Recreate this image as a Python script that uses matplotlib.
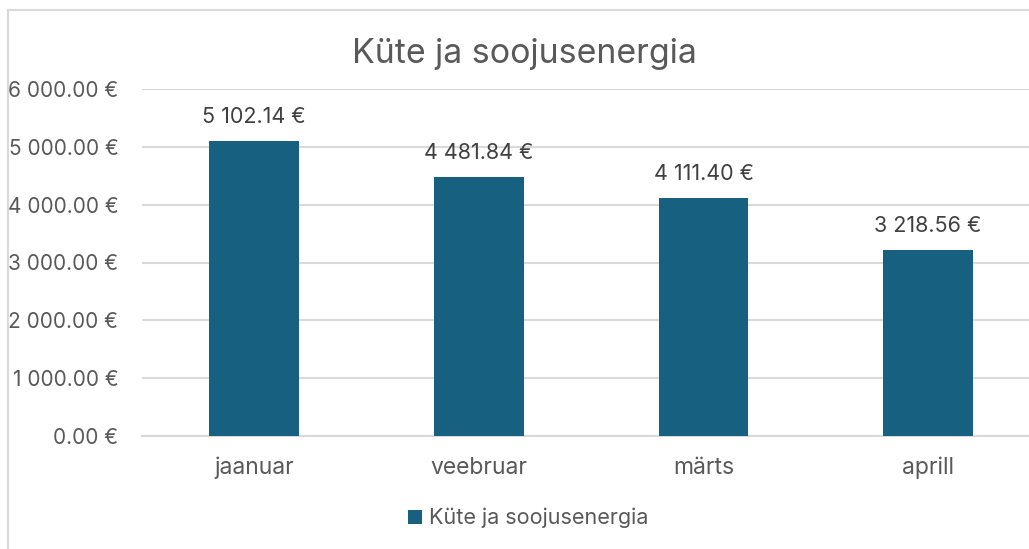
import numpy as np
import matplotlib.pyplot as plt
from matplotlib.patches import Rectangle

months = ['jaanuar', 'veebruar', 'märts', 'aprill']
values = [5102.14, 4481.84, 4111.40, 3218.56]
yticks = [0, 1000, 2000, 3000, 4000, 5000, 6000]
series = 'Küte ja soojusenergia'

plt.rcParams['font.family'] = ['Inter', 'DejaVu Sans']
bar_color = '#17607F'
text_color = '#595959'
grid_color = '#D9D9D9'


def euro(v):
    s = '{:,.2f}'.format(v).replace(',', ' ')
    return s + ' €'


W, H = 1029, 549
fig = plt.figure(figsize=(W / 100, H / 100), dpi=100)

# chart frame (left and top edges visible)
fig.add_artist(Rectangle((8 / W, -0.1), 1.2, (H - 10) / H + 0.1, transform=fig.transFigure,
                         fill=False, edgecolor=grid_color, linewidth=1.5))

ax = fig.add_axes([142 / W, 1 - 436 / H, (W - 142) / W, (436 - 89) / H])
x = np.arange(len(months))
ax.bar(x, values, width=0.4, color=bar_color, label=series, zorder=3)
ax.set_xlim(-0.5, 3.5 - 11.5 / 225)
ax.set_ylim(0, 6000)
ax.set_yticks(yticks)
ax.set_yticklabels([euro(v) for v in yticks])
ax.set_xticks(x)
ax.set_xticklabels(months)
ax.tick_params(axis='both', length=0, colors=text_color)
ax.tick_params(axis='y', pad=17, labelsize=15)
ax.tick_params(axis='x', pad=15, labelsize=16.5)
ax.grid(axis='y', color=grid_color, linewidth=1.5, zorder=0)
for s in ['top', 'right', 'left']:
    ax.spines[s].set_visible(False)
ax.spines['bottom'].set_color(grid_color)
ax.spines['bottom'].set_linewidth(1.5)

for xi, v in zip(x, values):
    ax.annotate(euro(v), (xi, v), xytext=(0, 10), textcoords='offset points',
                ha='center', va='bottom', fontsize=15.5, color='#404040')

fig.text(524 / W, 1 - 54 / H, series, ha='center', va='center', fontsize=24.4, color=text_color)

ax.legend(loc='center', bbox_to_anchor=(528 / W, 1 - 518 / H), bbox_transform=fig.transFigure,
          frameon=False, fontsize=15.5, labelcolor=text_color, handlelength=0.65, handleheight=0.65,
          handletextpad=0.3)

fig.savefig('out.png', dpi=100)
